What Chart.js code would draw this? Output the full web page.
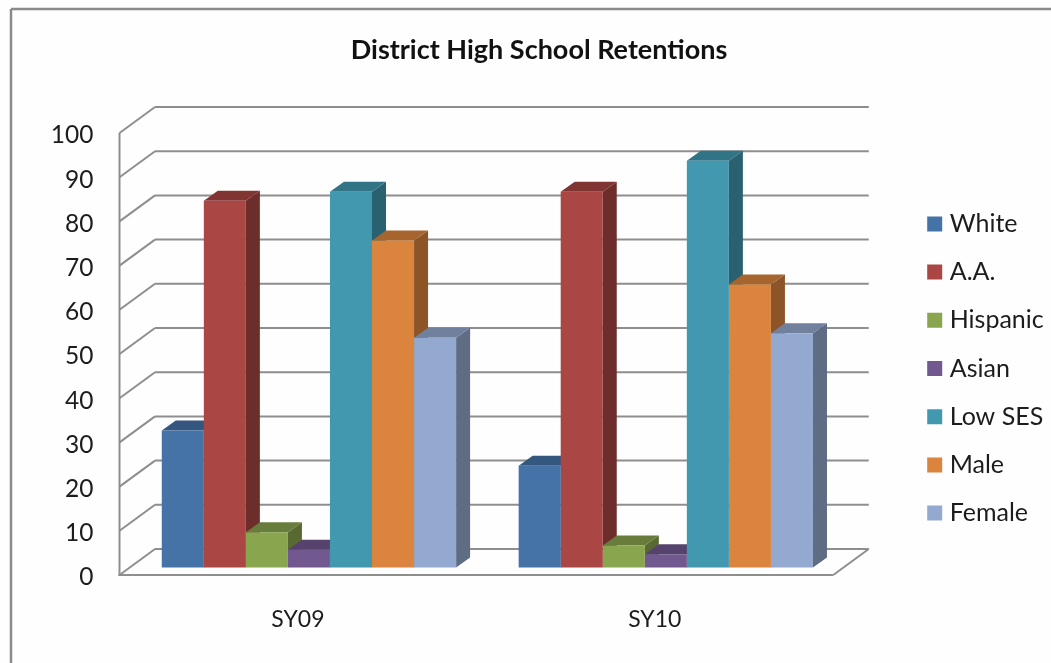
<!DOCTYPE html>
<html>
<head>
<meta charset="utf-8">
<title>District High School Retentions</title>
<script src="https://cdn.jsdelivr.net/npm/chart.js@4"></script>
<style>
    html, body { margin: 0; padding: 0; background: #fefefe; overflow: hidden; }
    canvas { display: block; }
</style>
</head>
<body>
<canvas id="chart" width="1051" height="663"></canvas>
<script>
const categories = ['SY09', 'SY10'];
const seriesNames = ['White', 'A.A.', 'Hispanic', 'Asian', 'Low SES', 'Male', 'Female'];
const whiteValues = [31, 23];
const aaValues = [83, 85];
const hispanicValues = [8, 5];
const asianValues = [4, 3];
const lowSesValues = [85, 92];
const maleValues = [74, 64];
const femaleValues = [52, 53];
const seriesColors = ['#4572A7', '#AA4643', '#89A54E', '#71588F', '#4198AF', '#DB843D', '#93A9CF'];
const yTicks = [0, 10, 20, 30, 40, 50, 60, 70, 80, 90, 100];

const seriesValues = [whiteValues, aaValues, hispanicValues, asianValues, lowSesValues, maleValues, femaleValues];

const FONT = 'Lato, "Open Sans", sans-serif';
const TEXT_COLOR = '#1c1c1c';
const GRID_COLOR = '#8e8e8e';

// depth of the box (wall behind the front axis) and of each bar
const WALL_DX = 35.5, WALL_DY = -26;
const BAR_SHIFT_X = 11, BAR_SHIFT_Y = -7.5;
const BAR_DX = 14, BAR_DY = -10;

function shade(hex, factor) {
    const n = parseInt(hex.slice(1), 16);
    const r = Math.round((n >> 16 & 255) * factor);
    const g = Math.round((n >> 8 & 255) * factor);
    const b = Math.round((n & 255) * factor);
    return `rgb(${r}, ${g}, ${b})`;
}

function polygon(ctx, points, color) {
    ctx.fillStyle = color;
    ctx.beginPath();
    points.forEach((p, i) => i ? ctx.lineTo(p[0], p[1]) : ctx.moveTo(p[0], p[1]));
    ctx.closePath();
    ctx.fill();
}

function line(ctx, x1, y1, x2, y2) {
    ctx.beginPath();
    ctx.moveTo(x1, y1);
    ctx.lineTo(x2, y2);
    ctx.stroke();
}

const framePlugin = {
    id: 'frame',
    beforeDraw(chart) {
        const ctx = chart.ctx;
        ctx.save();
        ctx.strokeStyle = '#8a8a8a';
        ctx.lineWidth = 2.5;
        line(ctx, 11, 9, 1051, 9);
        line(ctx, 11, 9, 11, 663);
        ctx.restore();
    }
};

// legend and title sit off centre in the original
const placementPlugin = {
    id: 'placement',
    afterLayout(chart) {
        const legend = chart.legend;
        const legendLeft = 909;
        legend.right += legendLeft - legend.left;
        legend.left = legendLeft;
        legend.top += 20;
        legend.bottom += 20;
        chart.titleBlock.left += 50;
        chart.titleBlock.right += 50;
    }
};

const boxPlugin = {
    id: 'box3d',
    beforeDatasetsDraw(chart) {
        const ctx = chart.ctx;
        const { left, right } = chart.chartArea;
        const y = chart.scales.y;

        // walls and floor
        ctx.save();
        ctx.strokeStyle = GRID_COLOR;
        ctx.lineWidth = 2;
        yTicks.forEach(tick => {
            const py = y.getPixelForValue(tick);
            line(ctx, left, py, left + WALL_DX, py + WALL_DY);
            line(ctx, left + WALL_DX, py + WALL_DY, right + WALL_DX, py + WALL_DY);
        });
        const top = y.getPixelForValue(100);
        const zero = y.getPixelForValue(0);
        line(ctx, left, top, left, zero + 1);
        line(ctx, left - 1, zero, right, zero);
        line(ctx, right, zero, right + WALL_DX, zero + WALL_DY);
        ctx.restore();

        // bar tops and sides, left to right, the library then paints the fronts over them
        ctx.save();
        ctx.translate(BAR_SHIFT_X, BAR_SHIFT_Y);
        categories.forEach((cat, c) => {
            seriesNames.forEach((name, s) => {
                const bar = chart.getDatasetMeta(s).data[c];
                const x0 = bar.x - bar.width / 2;
                const x1 = bar.x + bar.width / 2;
                polygon(ctx, [[x1, bar.y], [x1 + BAR_DX, bar.y + BAR_DY], [x1 + BAR_DX, bar.base + BAR_DY], [x1, bar.base]], shade(seriesColors[s], 0.64));
                polygon(ctx, [[x0, bar.y], [x1, bar.y], [x1 + BAR_DX, bar.y + BAR_DY], [x0 + BAR_DX, bar.y + BAR_DY]], shade(seriesColors[s], 0.76));
            });
        });
        // kept translated so the fronts land on the same plane, see afterDatasetsDraw
    },
    afterDatasetsDraw(chart) {
        chart.ctx.restore();
    }
};

new Chart(document.getElementById('chart'), {
    type: 'bar',
    data: {
        labels: categories,
        datasets: seriesNames.map((name, i) => ({
            label: name,
            data: seriesValues[i],
            backgroundColor: seriesColors[i],
            borderWidth: 0,
            clip: false,
            categoryPercentage: 0.8247,
            barPercentage: 1
        }))
    },
    options: {
        responsive: false,
        animation: false,
        layout: { padding: { left: 0, right: 73, top: 34, bottom: 0 } },
        plugins: {
            title: {
                display: true,
                text: 'District High School Retentions',
                color: '#111111',
                font: { family: FONT, size: 27, weight: 'bold' },
                padding: { top: 0, bottom: 66.6 }
            },
            legend: {
                position: 'right',
                labels: {
                    color: TEXT_COLOR,
                    font: { family: FONT, size: 25 },
                    boxWidth: 5,
                    boxHeight: 5,
                    padding: 23.2,
                    generateLabels(chart) {
                        return Chart.defaults.plugins.legend.labels.generateLabels(chart).map(item => ({
                            ...item,
                            strokeStyle: item.fillStyle,
                            lineWidth: 10
                        }));
                    }
                }
            },
            tooltip: { enabled: false }
        },
        scales: {
            x: {
                grid: { display: false },
                border: { display: false },
                ticks: { color: TEXT_COLOR, font: { family: FONT, size: 23 }, padding: 23 },
                afterFit(scale) { scale.height = 88; }
            },
            y: {
                min: 0,
                max: 100,
                grid: { display: false, drawTicks: false },
                border: { display: false },
                ticks: { color: TEXT_COLOR, font: { family: FONT, size: 24.5 }, padding: 26, stepSize: 10, labelOffset: 2.5 },
                afterFit(scale) { scale.width = 119.5; }
            }
        }
    },
    plugins: [framePlugin, placementPlugin, boxPlugin]
});
</script>
</body>
</html>
